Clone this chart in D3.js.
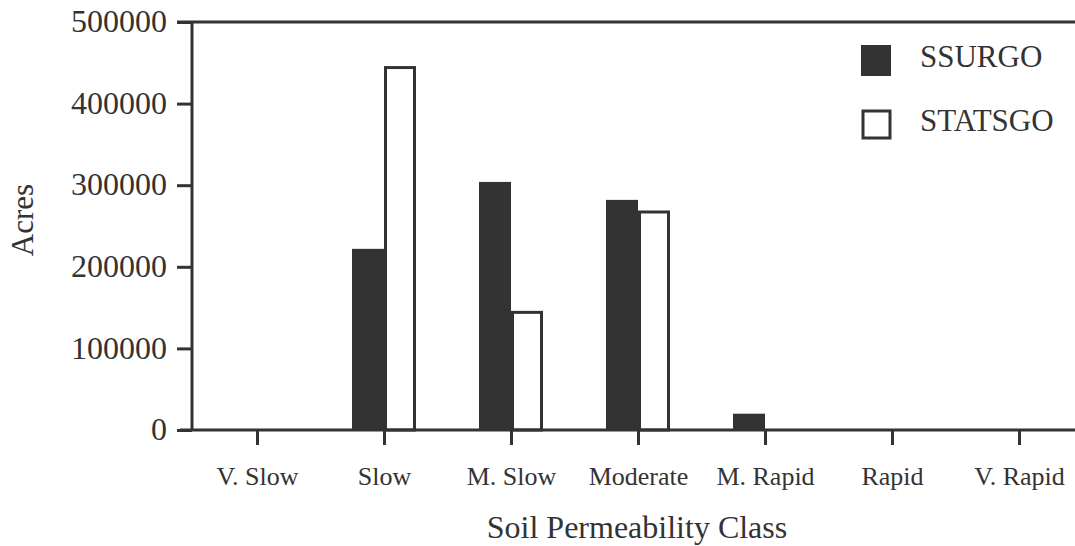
<!DOCTYPE html>
<html lang="en">
<head>
<meta charset="UTF-8">
<title>Soil Permeability Class</title>
<script src="https://d3js.org/d3.v7.min.js"></script>
<style>
    body { margin: 0; background: white; }
    svg { display: block; }
    text { font-family: "Liberation Serif", "Times New Roman", serif; fill: #333; }
</style>
</head>
<body>
<script>
    // data
    const categories = ["V. Slow", "Slow", "M. Slow", "Moderate", "M. Rapid", "Rapid", "V. Rapid"];
    const ssurgo = [0, 222000, 304000, 282000, 20000, 0, 0];
    const statsgo = [0, 446000, 146000, 269000, 0, 0, 0];
    const yTicks = [0, 100000, 200000, 300000, 400000, 500000];
    const seriesNames = ["SSURGO", "STATSGO"];

    const width = 1075, height = 546;
    const ink = "#333";
    const barW = 32;

    const svg = d3.select("body").append("svg")
        .attr("width", width)
        .attr("height", height);

    const x = d3.scalePoint().domain(categories).range([257, 1019]);
    const y = d3.scaleLinear().domain([0, 500000]).range([430, 22]);

    // bars
    svg.selectAll(".ssurgo")
        .data(categories.map((c, i) => ({ c, v: ssurgo[i] })).filter(d => d.v > 0))
        .enter().append("rect")
        .attr("class", "ssurgo")
        .attr("x", d => x(d.c) - barW)
        .attr("y", d => y(d.v))
        .attr("width", barW)
        .attr("height", d => y(0) - y(d.v))
        .attr("fill", ink);

    svg.selectAll(".statsgo")
        .data(categories.map((c, i) => ({ c, v: statsgo[i] })).filter(d => d.v > 0))
        .enter().append("rect")
        .attr("class", "statsgo")
        .attr("x", d => x(d.c) + 1.5)
        .attr("y", d => y(d.v) + 1.5)
        .attr("width", barW - 3)
        .attr("height", d => y(0) - y(d.v) - 1.5)
        .attr("fill", "white")
        .attr("stroke", ink)
        .attr("stroke-width", 3);

    // y axis
    const yAxis = svg.append("g")
        .attr("transform", "translate(192,0)")
        .call(d3.axisLeft(y).tickValues(yTicks).tickFormat(d3.format("d")).tickSize(15).tickPadding(10));
    yAxis.select(".domain").remove();
    yAxis.selectAll(".tick line").attr("stroke", ink).attr("stroke-width", 3);
    yAxis.selectAll(".tick text")
        .attr("font-size", 32)
        .attr("dy", "0.3em")
        .style("font-family", "'Liberation Serif', 'Times New Roman', serif")
        .attr("fill", ink);
    svg.append("line")
        .attr("x1", 192).attr("x2", 192)
        .attr("y1", y(500000)).attr("y2", y(0))
        .attr("stroke", ink).attr("stroke-width", 3);

    // top frame line
    svg.append("line")
        .attr("x1", 177).attr("x2", width)
        .attr("y1", y(500000)).attr("y2", y(500000))
        .attr("stroke", ink).attr("stroke-width", 3);

    // x axis
    const xAxis = svg.append("g")
        .attr("transform", `translate(0,${y(0)})`)
        .call(d3.axisBottom(x).tickSize(15).tickPadding(22));
    xAxis.select(".domain").remove();
    xAxis.selectAll(".tick line").attr("stroke", ink).attr("stroke-width", 3);
    xAxis.selectAll(".tick text")
        .attr("font-size", 26)
        .style("font-family", "'Liberation Serif', 'Times New Roman', serif")
        .attr("fill", ink);
    svg.append("line")
        .attr("x1", 180).attr("x2", width)
        .attr("y1", y(0)).attr("y2", y(0))
        .attr("stroke", ink).attr("stroke-width", 3);

    // axis titles
    svg.append("text")
        .attr("x", 637)
        .attr("y", 538)
        .attr("text-anchor", "middle")
        .attr("font-size", 32)
        .text("Soil Permeability Class");

    svg.append("text")
        .attr("transform", "translate(33,220) rotate(-90)")
        .attr("text-anchor", "middle")
        .attr("font-size", 31)
        .text("Acres");

    // legend
    const legend = svg.append("g");
    legend.append("rect")
        .attr("x", 861).attr("y", 45)
        .attr("width", 30).attr("height", 31)
        .attr("fill", ink);
    legend.append("rect")
        .attr("x", 863).attr("y", 111)
        .attr("width", 27).attr("height", 27)
        .attr("fill", "white")
        .attr("stroke", ink).attr("stroke-width", 3);
    legend.selectAll(".legend-label")
        .data(seriesNames)
        .enter().append("text")
        .attr("class", "legend-label")
        .attr("x", 920)
        .attr("y", (d, i) => 67 + i * 64)
        .attr("font-size", 31)
        .text(d => d);
</script>
</body>
</html>
